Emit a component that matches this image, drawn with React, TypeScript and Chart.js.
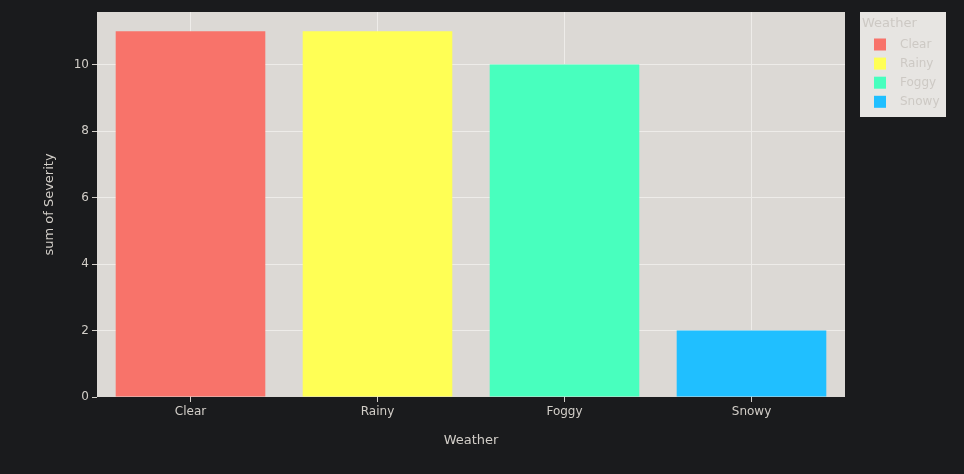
import React, { useEffect, useRef } from 'react';
import { Chart, registerables } from 'chart.js';
Chart.register(...registerables);

const categories = ['Clear', 'Rainy', 'Foggy', 'Snowy'];
const severity = [11, 11, 10, 2];
const barColors = ['#f8736a', '#ffff55', '#48ffbe', '#20bfff'];
const yTickValues = [0, 2, 4, 6, 8, 10];
const yMax = 11.58;
const legendTitle = 'Weather';
const xTitle = 'Weather';
const yTitle = 'sum of Severity';

const FONT = "'DejaVu Sans', Verdana, sans-serif";
const PAGE_BG = '#1a1b1d';
const PLOT_BG = '#dcd9d5';
const GRID = '#eeece9';
const TEXT = '#d2cec8';

const bgPlugin = {
  id: 'plotBg',
  beforeDraw(chart: any) {
    const { ctx, chartArea } = chart;
    ctx.save();
    ctx.fillStyle = PAGE_BG;
    ctx.fillRect(0, 0, chart.width, chart.height);
    ctx.fillStyle = PLOT_BG;
    ctx.fillRect(chartArea.left, chartArea.top, chartArea.right - chartArea.left, chartArea.bottom - chartArea.top);
    ctx.restore();
  },
};

const legendPlugin = {
  id: 'customLegend',
  afterDraw(chart: any) {
    const { ctx } = chart;
    const x0 = chart.chartArea.right + 15;
    const y0 = 12;
    const w = 86;
    const h = 105;
    ctx.save();
    ctx.fillStyle = '#e7e5e2';
    ctx.fillRect(x0, y0, w, h);
    ctx.fillStyle = '#cdc9c4';
    ctx.font = `13px ${FONT}`;
    ctx.textBaseline = 'middle';
    ctx.textAlign = 'left';
    ctx.fillText(legendTitle, x0 + 2, y0 + 12);
    ctx.font = `12px ${FONT}`;
    categories.forEach((c, i) => {
      const cy = y0 + 32.5 + i * 19.1;
      ctx.fillStyle = barColors[i];
      ctx.fillRect(x0 + 14, cy - 6, 12, 12);
      ctx.fillStyle = '#cdc9c4';
      ctx.fillText(c, x0 + 40, cy);
    });
    ctx.restore();
  },
};

export default function App() {
  const ref = useRef<HTMLCanvasElement>(null);
  useEffect(() => {
    if (!ref.current) return;
    const chart = new Chart(ref.current, {
      type: 'bar',
      data: {
        labels: categories,
        datasets: [
          {
            label: 'Severity',
            data: severity,
            backgroundColor: barColors,
            borderWidth: 0,
            categoryPercentage: 0.8,
            barPercentage: 1,
          },
        ],
      },
      options: {
        animation: false,
        responsive: false,
        maintainAspectRatio: false,
        layout: { padding: { left: 0, top: 12, right: 119, bottom: 0 } },
        plugins: {
          legend: { display: false },
          tooltip: { enabled: false },
        },
        scales: {
          x: {
            type: 'category',
            offset: true,
            grid: {
              offset: false,
              color: GRID,
              lineWidth: 1,
              drawTicks: true,
              tickLength: 5,
              tickColor: TEXT,
            },
            border: { display: false },
            ticks: { color: TEXT, font: { family: FONT, size: 12 }, padding: 3, maxRotation: 0 },
            title: {
              display: true,
              text: xTitle,
              color: TEXT,
              font: { family: FONT, size: 13 },
              padding: { top: 0, bottom: 26 },
            },
            afterFit(scale: any) {
              scale.height = 77;
            },
          },
          y: {
            min: 0,
            max: yMax,
            grid: {
              color: (ctx: any) => (ctx.tick && ctx.tick.value === 0 ? 'rgba(0,0,0,0)' : GRID),
              lineWidth: 1,
              drawTicks: true,
              tickLength: 5,
              tickColor: TEXT,
            },
            border: { display: false },
            ticks: { color: TEXT, font: { family: FONT, size: 12 }, padding: 3 },
            title: {
              display: true,
              text: yTitle,
              color: TEXT,
              font: { family: FONT, size: 13 },
              padding: { top: 42, bottom: 0 },
            },
            afterBuildTicks(scale: any) {
              scale.ticks = yTickValues.map((v) => ({ value: v }));
            },
            afterFit(scale: any) {
              scale.width = 97;
            },
          },
        },
      },
      plugins: [bgPlugin, legendPlugin],
    });
    return () => chart.destroy();
  }, []);
  return (
    <div style={{ position: 'fixed', left: 0, top: 0, width: 964, height: 474, background: PAGE_BG }}>
      <canvas ref={ref} width={964} height={474} style={{ display: 'block', width: 964, height: 474 }} />
    </div>
  );
}
